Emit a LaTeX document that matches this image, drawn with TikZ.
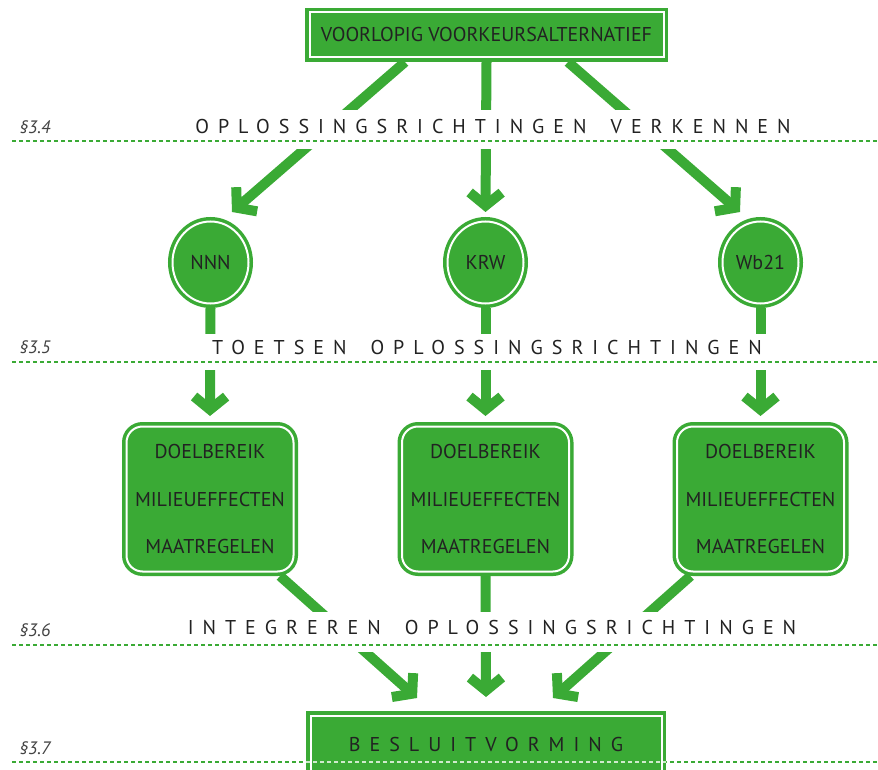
\documentclass[tikz,border=0pt]{standalone}
\usepackage{fontspec}
\setmainfont{PT Sans}
\newfontfamily\spacedfont[LetterSpace=45]{PT Sans}
\usetikzlibrary{shapes.geometric, arrows.meta, calc}
\definecolor{leaf}{HTML}{3AAA35}
\definecolor{ink}{HTML}{222222}

\begin{document}
\begin{tikzpicture}[x = 1pt, y = -1pt, every node/.style = {text = ink, font = \fontsize{20}{24}\selectfont}, block/.style = {draw = leaf, fill = leaf, double = white, double distance = 2pt, line width = 3.5pt, outer sep = 4.5pt, inner sep = 0pt}, topic/.style = {block, rectangle, minimum width = 354pt, minimum height = 45pt}, bubble/.style = {block, ellipse, minimum width = 76pt, minimum height = 82pt}, check/.style = {block, rectangle, rounded corners = 16pt, minimum width = 167pt, minimum height = 145pt, align = center, font = \fontsize{20}{47.5}\selectfont}, flow/.style = {draw = leaf, line width = 10pt, -{Straight Barb[length = 13pt, width = 32pt]}}, phase/.style = {font = \spacedfont\fontsize{20}{24}\selectfont}, par/.style = {anchor = west, text = ink!85, font = \itshape\fontsize{18}{20}\selectfont}, rule/.style = {draw = leaf, line width = 2pt, dash pattern = on 4pt off 3pt}]
    \path[use as bounding box, clip] (0,0) rectangle (878,770);
    % nodes
    \node[topic] (vva) at (486.5,35) {VOORLOPIG VOORKEURSALTERNATIEF};
    \node[bubble] (nnn) at (210.5,262.5) {NNN};
    \node[bubble] (krw) at (485.5,262.5) {KRW};
    \node[bubble] (wb) at (760.5,262.5) {Wb21};
    \node[check] (nnnbox) at (210,499) {DOELBEREIK\\MILIEUEFFECTEN\\MAATREGELEN};
    \node[check] (krwbox) at (485.5,499) {DOELBEREIK\\MILIEUEFFECTEN\\MAATREGELEN};
    \node[check] (wbbox) at (760.5,499) {DOELBEREIK\\MILIEUEFFECTEN\\MAATREGELEN};
    \node[topic, anchor = north, minimum width = 351pt, minimum height = 0pt, inner ysep = 21pt, text height = 15pt, text depth = 40pt, phase] (besluit) at (486,711) {BESLUITVORMING};
    % arrows
    \draw[flow] ($(vva.south)+(-81.5,0)$) -- ($(nnn.north)+(21.5,-5)$);
    \draw[flow] (vva.south) -- ($(krw.north)+(0,-5)$);
    \draw[flow] ($(vva.south)+(81.5,0)$) -- ($(wb.north)+(-20.5,-5)$);
    \draw[flow] (nnn.south) -- ($(nnnbox.north)+(0,-6)$);
    \draw[flow] (krw.south) -- ($(krwbox.north)+(0,-6)$);
    \draw[flow] (wb.south) -- ($(wbbox.north)+(0,-6)$);
    \draw[flow] ($(nnnbox.south east)+(-18,0)$) -- ($(besluit.north)+(-69,-13)$);
    \draw[flow] (krwbox.south) -- ($(besluit.north)+(0,-14)$);
    \draw[flow] ($(wbbox.south west)+(18,0)$) -- ($(besluit.north)+(67,-13)$);
    % phases
    \foreach \top/\low/\line in {110/149/141, 334/370/362, 612/652/645}
        {\fill[white] (0,\top) rectangle (878,\low);
         \draw[rule] (12,\line) -- (878,\line);}
    \draw[rule] (12,762) -- (878,762);
    \begin{scope}
        \clip (306,711) rectangle (666,770);
        \draw[rule, draw = white!75!leaf] (12,762) -- (878,762);
    \end{scope}
    \node[phase] (verkennen) at (493,127) {OPLOSSINGSRICHTINGEN\hspace{1.2em}VERKENNEN};
    \node[phase] (toetsen) at (487,347) {TOETSEN\hspace{1.2em}OPLOSSINGSRICHTINGEN};
    \node[phase] (integreren) at (492,627) {INTEGREREN\hspace{1.2em}OPLOSSINGSRICHTINGEN};
    \node[par] (p34) at (16,127) {§3.4};
    \node[par] (p35) at (16,347) {§3.5};
    \node[par] (p36) at (16,630) {§3.6};
    \node[par] (p37) at (16,748) {§3.7};
\end{tikzpicture}
\end{document}
